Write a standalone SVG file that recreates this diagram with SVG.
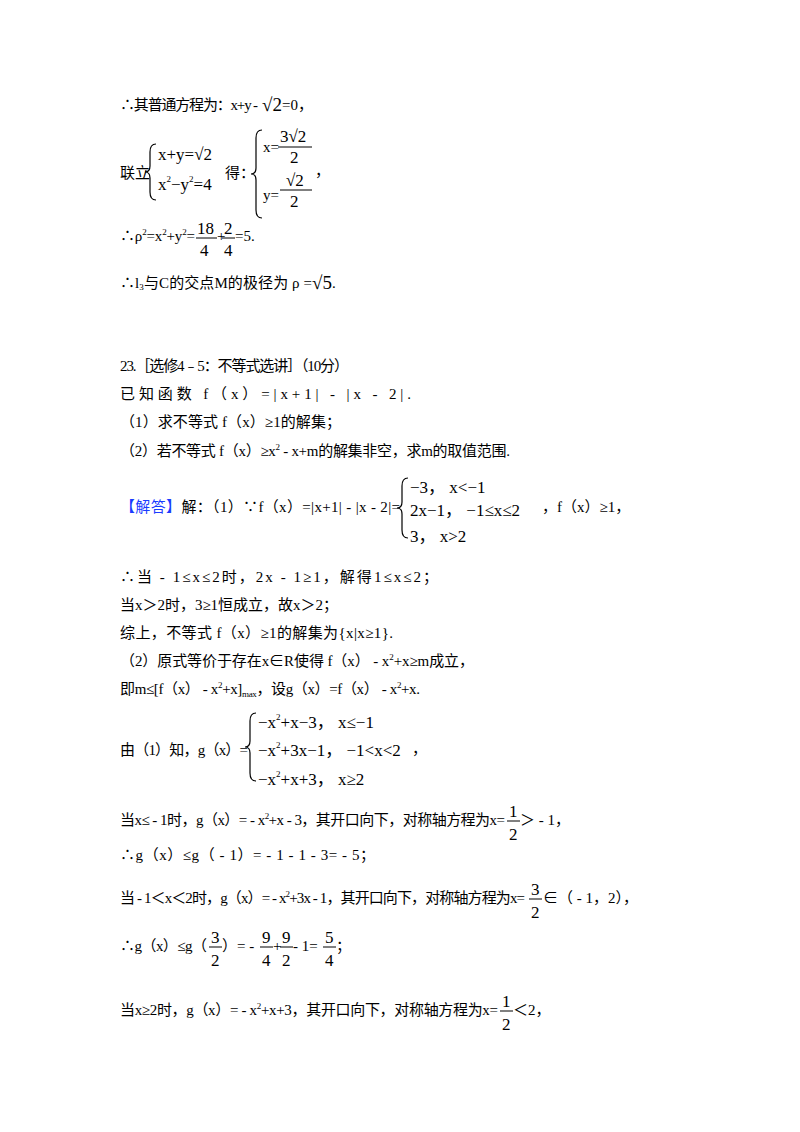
<svg xmlns="http://www.w3.org/2000/svg" width="800" height="1132" viewBox="0 0 800 1132">
<style>
text{font-family:"Liberation Serif","Noto Sans CJK SC",serif;font-size:15px;fill:#000}
.b{font-size:19px}
.m{font-size:17px}
.s{font-size:9px}
.blue{fill:#1a3cff}
line{stroke:#000;stroke-width:1}
path{fill:none;stroke:#000;stroke-width:1.2}
</style>
<rect width="800" height="1132" fill="#fff"/>
<text x="120" y="110" textLength="138" lengthAdjust="spacing">∴其普通方程为：x+y - </text><text x="262" y="111" class="b">√2</text><text x="282" y="110">=0，</text>

<text x="120" y="178">联立</text>
<path d="M156 144 q-6 0 -6 8 v14 q0 6 -5 6 q5 0 5 6 v14 q0 8 6 8"/>
<text x="158" y="160" class="m">x+y=√2</text>
<text x="158" y="190" class="m">x<tspan class="s" dy="-8">2</tspan><tspan dy="8">−y</tspan><tspan class="s" dy="-8">2</tspan><tspan dy="8">=4</tspan></text>
<text x="225" y="178">得：</text>
<path d="M262 130 q-6 0 -6 8 v30 q0 6 -5 6 q5 0 5 6 v30 q0 8 6 8"/>
<text x="263" y="152">x=</text><text x="280" y="142" class="m">3√2</text><line x1="278" y1="147" x2="312" y2="147"/><text x="290" y="163" class="m">2</text>
<text x="315" y="176">，</text>
<text x="263" y="200">y=</text><text x="286" y="186" class="m">√2</text><line x1="280" y1="190" x2="312" y2="190"/><text x="290" y="207" class="m">2</text>

<text x="120" y="241" textLength="75" lengthAdjust="spacing">∴ρ<tspan class="s" dy="-6">2</tspan><tspan dy="6">=x</tspan><tspan class="s" dy="-6">2</tspan><tspan dy="6">+y</tspan><tspan class="s" dy="-6">2</tspan><tspan dy="6">=</tspan></text>
<text x="197" y="234" class="m">18</text><line x1="196" y1="238" x2="217" y2="238"/><text x="200" y="256" class="m">4</text>
<text x="217" y="241">+</text>
<text x="224" y="234" class="m">2</text><line x1="222" y1="238" x2="235" y2="238"/><text x="224" y="256" class="m">4</text>
<text x="235" y="241">=5.</text>

<text x="120" y="288" textLength="192" lengthAdjust="spacing">∴l<tspan class="s" dy="2">3</tspan><tspan dy="-2">与C的交点M的极径为 ρ =</tspan></text><text x="312" y="289" class="b">√5</text><text x="332" y="288">.</text>

<text x="120" y="371" textLength="229" lengthAdjust="spacing">23.［选修4﹣5：不等式选讲］（10分）</text>
<text x="120" y="399" textLength="291" lengthAdjust="spacing">已知函数 f（x）=|x+1| - |x - 2|.</text>
<text x="120" y="427" textLength="221" lengthAdjust="spacing">（1）求不等式 f（x）≥1的解集；</text>
<text x="120" y="456" textLength="390" lengthAdjust="spacing">（2）若不等式 f（x）≥x<tspan class="s" dy="-6">2</tspan><tspan dy="6"> - x+m的解集非空，求m的取值范围.</tspan></text>

<text x="120" y="512" textLength="280" lengthAdjust="spacing"><tspan class="blue">【解答】</tspan>解：（1）∵f（x）=|x+1| - |x - 2|=</text>
<path d="M408 478 q-6 0 -6 8 v16 q0 6 -5 6 q5 0 5 6 v16 q0 8 6 8"/>
<text x="410" y="493" class="m">−3， x&lt;−1</text>
<text x="410" y="516" class="m">2x−1， −1≤x≤2</text>
<text x="542" y="512">，f（x）≥1，</text>
<text x="410" y="542" class="m">3， x&gt;2</text>

<text x="120" y="582" textLength="318" lengthAdjust="spacing">∴当 - 1≤x≤2时，2x - 1≥1，解得1≤x≤2；</text>
<text x="120" y="610" textLength="218" lengthAdjust="spacing">当x＞2时，3≥1恒成立，故x＞2；</text>
<text x="120" y="638" textLength="273" lengthAdjust="spacing">综上，不等式 f（x）≥1的解集为{x|x≥1}.</text>
<text x="120" y="666" textLength="354" lengthAdjust="spacing">（2）原式等价于存在x∈R使得 f（x） - x<tspan class="s" dy="-6">2</tspan><tspan dy="6">+x≥m成立，</tspan></text>
<text x="120" y="694" textLength="300" lengthAdjust="spacing">即m≤[f（x） - x<tspan class="s" dy="-6">2</tspan><tspan dy="6">+x]</tspan><tspan class="s" dy="3">max</tspan><tspan dy="-3">，设g（x）=f（x） - x</tspan><tspan class="s" dy="-6">2</tspan><tspan dy="6">+x.</tspan></text>

<text x="120" y="755" textLength="128" lengthAdjust="spacing">由（1）知，g（x）=</text>
<path d="M256 713 q-6 0 -6 8 v20 q0 6 -5 6 q5 0 5 6 v20 q0 8 6 8"/>
<text x="258" y="728" class="m">−x<tspan class="s" dy="-8">2</tspan><tspan dy="8">+x−3， x≤−1</tspan></text>
<text x="258" y="756" class="m">−x<tspan class="s" dy="-8">2</tspan><tspan dy="8">+3x−1， −1&lt;x&lt;2</tspan></text>
<text x="412" y="754">，</text>
<text x="258" y="785" class="m">−x<tspan class="s" dy="-8">2</tspan><tspan dy="8">+x+3， x≥2</tspan></text>

<text x="120" y="825" textLength="385" lengthAdjust="spacing">当x≤ - 1时，g（x）= - x<tspan class="s" dy="-6">2</tspan><tspan dy="6">+x - 3，其开口向下，对称轴方程为x=</tspan></text>
<text x="509" y="817" class="m">1</text><line x1="507" y1="821" x2="520" y2="821"/><text x="509" y="840" class="m">2</text>
<text x="520" y="825">＞ - 1，</text>
<text x="120" y="860" textLength="255" lengthAdjust="spacing">∴g（x）≤g（ - 1）= - 1 - 1 - 3= - 5；</text>
<text x="120" y="903" textLength="405" lengthAdjust="spacing">当 - 1＜x＜2时，g（x）= - x<tspan class="s" dy="-6">2</tspan><tspan dy="6">+3x - 1，其开口向下，对称轴方程为x=</tspan></text>
<text x="531" y="895" class="m">3</text><line x1="529" y1="899" x2="542" y2="899"/><text x="531" y="918" class="m">2</text>
<text x="543" y="903">∈（ - 1，2），</text>
<text x="120" y="951" textLength="87" lengthAdjust="spacing">∴g（x）≤g（</text>
<text x="211" y="943" class="m">3</text><line x1="209" y1="947" x2="222" y2="947"/><text x="211" y="966" class="m">2</text>
<text x="222" y="951">）= - </text>
<text x="262" y="943" class="m">9</text><line x1="260" y1="947" x2="273" y2="947"/><text x="262" y="966" class="m">4</text>
<text x="273" y="951">+</text>
<text x="282" y="943" class="m">9</text><line x1="280" y1="947" x2="293" y2="947"/><text x="282" y="966" class="m">2</text>
<text x="293" y="951"> - 1=</text>
<text x="325" y="943" class="m">5</text><line x1="323" y1="947" x2="336" y2="947"/><text x="325" y="966" class="m">4</text>
<text x="336" y="951">；</text>
<text x="120" y="1015" textLength="378" lengthAdjust="spacing">当x≥2时，g（x）= - x<tspan class="s" dy="-6">2</tspan><tspan dy="6">+x+3，其开口向下，对称轴方程为x=</tspan></text>
<text x="502" y="1007" class="m">1</text><line x1="500" y1="1011" x2="513" y2="1011"/><text x="502" y="1030" class="m">2</text>
<text x="513" y="1015">＜2，</text>
</svg>
